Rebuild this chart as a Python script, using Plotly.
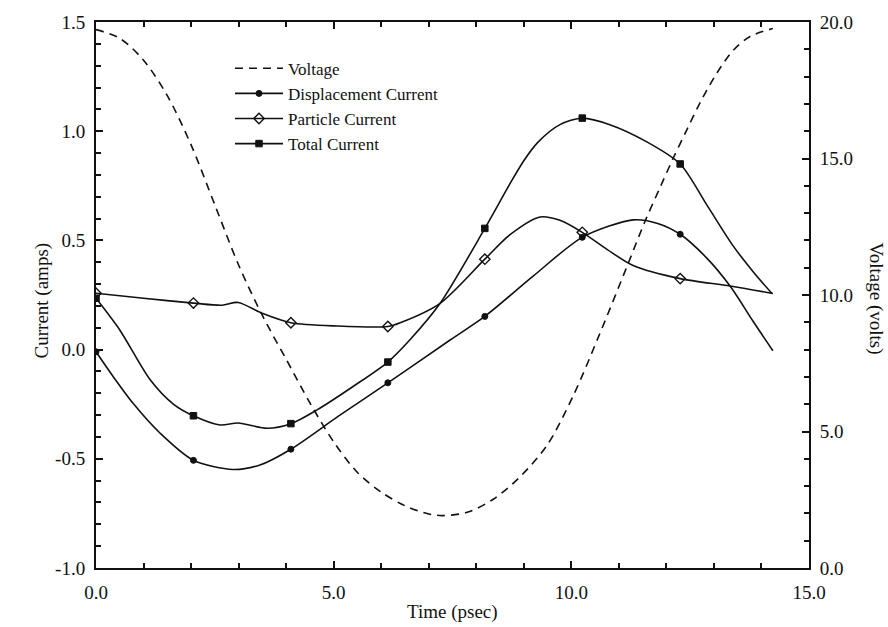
import plotly.graph_objects as go

# ---------------- data ----------------
volt_t = [0.00, 0.50, 1.00, 1.50, 2.00, 2.50, 3.00, 3.50, 4.00, 4.50, 5.00, 5.50, 6.00, 6.50,
          7.00, 7.30, 7.81, 8.35, 8.92, 9.49, 10.04, 10.60, 11.19, 11.55, 11.87, 12.14, 12.43,
          12.71, 13.07, 13.40, 13.76, 14.24]
volt_v = [19.72, 19.40, 18.60, 17.30, 15.50, 13.30, 11.10, 9.25, 7.65, 6.05, 4.62, 3.50, 2.78, 2.28,
          1.98, 1.92, 2.04, 2.51, 3.34, 4.50, 6.31, 8.59, 11.13, 12.70, 13.95, 15.00, 16.05,
          17.05, 18.15, 18.95, 19.47, 19.76]

disp_t = [0.00, 0.36, 0.78, 1.35, 2.05, 2.88, 3.45, 4.10, 5.10, 6.14, 7.45, 8.18, 9.19, 10.23,
          11.30, 11.80, 12.29, 12.85, 13.34, 13.82, 14.24]
disp_i = [-0.010, -0.123, -0.246, -0.383, -0.507, -0.549, -0.528, -0.456, -0.305, -0.152, 0.044,
          0.152, 0.335, 0.514, 0.594, 0.579, 0.528, 0.419, 0.291, 0.131, -0.005]

part_t = [0.00, 1.00, 2.05, 2.65, 2.99, 3.51, 4.10, 5.07, 6.14, 6.40, 7.24, 8.18, 8.71, 9.34,
          9.76, 10.23, 10.75, 11.30, 12.29, 13.34, 14.24]
part_i = [0.258, 0.235, 0.213, 0.203, 0.216, 0.165, 0.123, 0.108, 0.106, 0.123, 0.212, 0.414,
          0.526, 0.607, 0.592, 0.537, 0.459, 0.385, 0.325, 0.291, 0.257]

tot_t = [0.00, 0.50, 1.14, 1.62, 2.05, 2.61, 2.99, 3.60, 4.10, 4.65, 5.40, 6.14, 6.61, 7.24,
         8.18, 8.71, 9.00, 9.30, 9.76, 10.23, 10.81, 11.59, 12.29, 12.86, 13.40, 13.82, 14.22]
tot_i = [0.235, 0.090, -0.138, -0.248, -0.303, -0.345, -0.336, -0.360, -0.339, -0.276, -0.170,
         -0.057, 0.046, 0.212, 0.555, 0.760, 0.865, 0.950, 1.030, 1.060, 1.030, 0.951, 0.850,
         0.659, 0.476, 0.358, 0.257]

mark_t = [0.00, 2.05, 4.10, 6.14, 8.18, 10.23, 12.29]

x_tickvals = [0, 5, 10, 15]
x_ticktext = ["0.0", "5.0", "10.0", "15.0"]
y_tickvals = [-1.0, -0.5, 0.0, 0.5, 1.0, 1.5]
y_ticktext = ["-1.0", "-0.5", "0.0", "0.5", "1.0", "1.5"]
y2_tickvals = [0, 5, 10, 15, 20]
y2_ticktext = ["0.0", "5.0", "10.0", "15.0", "20.0"]

# ---------------- styling ----------------
FONT = "Liberation Serif"
INK = "#111111"
W, H = 888, 627
ML, MR, MT, MB = 96, 79, 17, 59
pw, ph = W - ML - MR, H - MT - MB


def px_to_paper(xp, yp):
    return (xp - ML) / pw, (H - MB - yp) / ph


def marks(ts, vals):
    lookup = dict(zip(ts, vals))
    return [lookup[t] for t in mark_t]


fig = go.Figure()

fig.add_trace(go.Scatter(x=volt_t, y=volt_v, yaxis="y2", mode="lines", name="Voltage",
                         line=dict(color=INK, width=1.6, dash="8px,6px", shape="spline",
                                   smoothing=0.9)))

series = [
    ("Displacement Current", disp_t, disp_i, dict(symbol="circle", size=6, color=INK,
                                                    line=dict(color=INK, width=1))),
    ("Particle Current", part_t, part_i, dict(symbol="diamond-open", size=8, color=INK,
                                               line=dict(color=INK, width=1.4))),
    ("Total Current", tot_t, tot_i, dict(symbol="square", size=6.5, color=INK,
                                         line=dict(color=INK, width=1))),
]

for name, ts, vals, mk in series:
    fig.add_trace(go.Scatter(x=ts, y=vals, mode="lines", showlegend=False,
                             line=dict(color=INK, width=1.6, shape="spline", smoothing=0.8),
                             hoverinfo="skip"))
    fig.add_trace(go.Scatter(x=mark_t, y=marks(ts, vals), mode="markers", showlegend=False,
                             marker=mk, name=name))
    fig.add_trace(go.Scatter(x=[None], y=[None], mode="lines+markers", name=name,
                             line=dict(color=INK, width=1.6), marker=mk))

axis_common = dict(showgrid=False, zeroline=False, showline=True, linecolor=INK, linewidth=2,
                   ticks="inside", ticklen=7, tickwidth=2, tickcolor=INK,
                   tickfont=dict(family=FONT, size=19, color=INK))
minor_common = dict(tick0=0, ticks="inside", ticklen=5, tickwidth=1.5, tickcolor=INK)

lx, ly = px_to_paper(230, 46)

fig.update_layout(
    width=W, height=H,
    margin=dict(l=ML, r=MR, t=MT, b=MB),
    paper_bgcolor="white", plot_bgcolor="white",
    font=dict(family=FONT, color=INK),
    xaxis=dict(range=[0, 15], tickmode="array", tickvals=x_tickvals, ticktext=x_ticktext,
               mirror="ticks", ticklabelstandoff=6, minor=dict(dtick=1, **minor_common),
               **axis_common),
    yaxis=dict(range=[-1.0, 1.5], tickmode="array", tickvals=y_tickvals, ticktext=y_ticktext,
               ticklabelstandoff=5, minor=dict(dtick=0.1, **minor_common), **axis_common),
    yaxis2=dict(range=[0, 20], overlaying="y", side="right", tickmode="array",
                tickvals=y2_tickvals, ticktext=y2_ticktext, ticklabelstandoff=5,
                minor=dict(dtick=1, **minor_common), **axis_common),
    legend=dict(x=lx, y=ly, xanchor="left", yanchor="top", bgcolor="rgba(0,0,0,0)",
                font=dict(family=FONT, size=17, color=INK), itemwidth=48, tracegroupgap=0),
    showlegend=True,
)

xt, yt = px_to_paper(452, 612)
xl, yl = px_to_paper(42, 298)
xr, yr = px_to_paper(876, 296)
fig.add_annotation(text="Time (psec)", xref="paper", yref="paper", x=xt, y=yt,
                   xanchor="center", yanchor="middle", showarrow=False,
                   font=dict(family=FONT, size=19, color=INK))
fig.add_annotation(text="Current (amps)", xref="paper", yref="paper", x=xl, y=yl,
                   xanchor="center", yanchor="middle", showarrow=False, textangle=-90,
                   font=dict(family=FONT, size=19, color=INK))
fig.add_annotation(text="Voltage (volts)", xref="paper", yref="paper", x=xr, y=yr,
                   xanchor="center", yanchor="middle", showarrow=False, textangle=90,
                   font=dict(family=FONT, size=19, color=INK))

fig.write_html("out.html")
